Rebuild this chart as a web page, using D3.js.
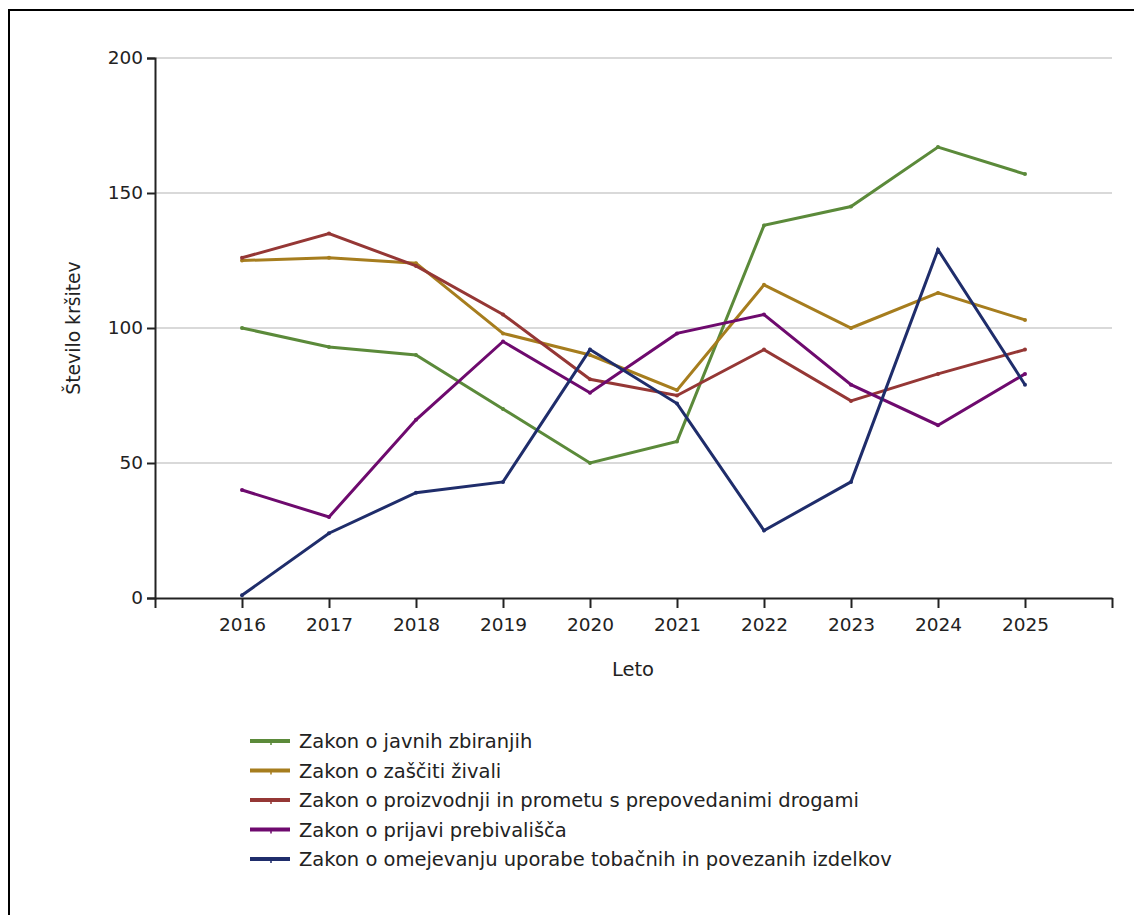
<!DOCTYPE html>
<html><head><meta charset="utf-8">
<script src="https://cdn.jsdelivr.net/npm/d3@7"></script>
<style>
html,body{margin:0;padding:0;background:#fff;}
text{font-family:"DejaVu Sans",sans-serif;fill:#222;}
</style></head>
<body>
<svg id="c" width="1134" height="915"></svg>
<script>
const years = [2016,2017,2018,2019,2020,2021,2022,2023,2024,2025];
const seriesNames = [
  "Zakon o javnih zbiranjih",
  "Zakon o zaščiti živali",
  "Zakon o proizvodnji in prometu s prepovedanimi drogami",
  "Zakon o prijavi prebivališča",
  "Zakon o omejevanju uporabe tobačnih in povezanih izdelkov"
];
const javnihZbiranjih = [100,93,90,70,50,58,138,145,167,157];
const zascitiZivali   = [125,126,124,98,90,77,116,100,113,103];
const drogami         = [126,135,123,105,81,75,92,73,83,92];
const prebivalisca    = [40,30,66,95,76,98,105,79,64,83];
const tobacnih        = [1,24,39,43,92,72,25,43,129,79];
const yTicks = [0,50,100,150,200];
const colors = ["#5b8a3a","#a67d1e","#953735","#6e0a6e","#1f2d6b"];
const xTitle = "Leto";
const yTitle = "Število kršitev";

const allSeries = [javnihZbiranjih, zascitiZivali, drogami, prebivalisca, tobacnih];

const svg = d3.select("#c");
// frame
svg.append("rect").attr("x",9).attr("y",10).attr("width",1200).attr("height",1000)
  .attr("fill","none").attr("stroke","#000").attr("stroke-width",2);

const x = d3.scaleLinear().domain([2015,2026]).range([155,1112]);
const y = d3.scaleLinear().domain([0,200]).range([598,58]);

// gridlines
svg.append("g").selectAll("line").data(yTicks.filter(d=>d>0)).join("line")
  .attr("x1",155).attr("x2",1112).attr("y1",d=>y(d)).attr("y2",d=>y(d))
  .attr("stroke","#d9d9d9").attr("stroke-width",2);

// y axis
const yAxis = svg.append("g").attr("transform","translate(155,0)")
  .call(d3.axisLeft(y).tickValues(yTicks).tickSize(8).tickPadding(4));
yAxis.select(".domain").attr("stroke","#222").attr("stroke-width",2);
yAxis.selectAll(".tick line").attr("stroke","#222").attr("stroke-width",2);
yAxis.selectAll("text").attr("font-size",18.5).attr("fill","#222");

// x axis
const xAxis = svg.append("g").attr("transform","translate(0,598)")
  .call(d3.axisBottom(x).tickValues([2015].concat(years,[2026])).tickFormat(d=>years.includes(d)?String(d):"").tickSize(10).tickPadding(10).tickSizeOuter(0));
xAxis.select(".domain").attr("stroke","#222").attr("stroke-width",2);
xAxis.selectAll(".tick line").attr("stroke","#222").attr("stroke-width",2);
xAxis.selectAll("text").attr("font-size",18.5).attr("fill","#222");

// titles
svg.append("text").attr("x",633).attr("y",676).attr("text-anchor","middle")
  .attr("font-size",19.5).text(xTitle);
svg.append("text").attr("transform","translate(80,328) rotate(-90)").attr("text-anchor","middle")
  .attr("font-size",18.8).text(yTitle);

// lines
const line = d3.line().x((d,i)=>x(years[i])).y(d=>y(d));
allSeries.forEach((s,k)=>{
  svg.append("path").datum(s).attr("d",line).attr("fill","none")
    .attr("stroke",colors[k]).attr("stroke-width",3).attr("stroke-linejoin","miter");
  svg.append("g").selectAll("circle").data(s).join("circle")
    .attr("cx",(d,i)=>x(years[i])).attr("cy",d=>y(d)).attr("r",2).attr("fill",colors[k]);
});

// legend
const leg = svg.append("g");
seriesNames.forEach((n,k)=>{
  const yy = 741 + k*29.5;
  leg.append("line").attr("x1",250).attr("x2",290).attr("y1",yy).attr("y2",yy)
    .attr("stroke",colors[k]).attr("stroke-width",4);
  leg.append("line").attr("x1",271).attr("x2",271).attr("y1",yy).attr("y2",yy+4)
    .attr("stroke",colors[k]).attr("stroke-width",1.5);
  leg.append("text").attr("x",299).attr("y",yy+7).attr("font-size",19.5).text(n);
});
</script>
</body></html>
